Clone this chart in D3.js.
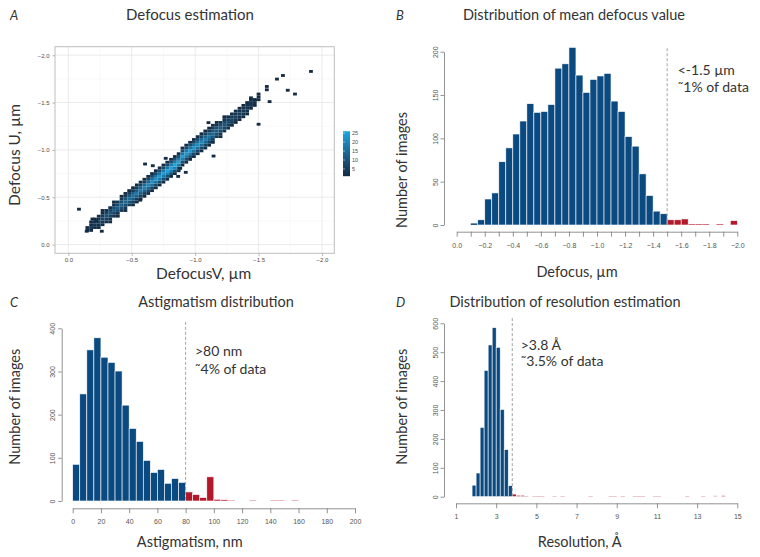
<!DOCTYPE html>
<html>
<head>
<meta charset="utf-8">
<script src="https://cdn.jsdelivr.net/npm/d3@7"></script>
<style>
  body{margin:0;background:#fff;}
  text{font-family:Lato,"Open Sans",sans-serif;fill:#333;}
  .axis text{font-family:"Liberation Sans",Arial,sans-serif;fill:#555;}
</style>
</head>
<body>
<svg id="fig" width="760" height="557"></svg>
<script>
// ---- panel A: 2D binned defocus U vs V ----
const heat_bin = 0.03;
const heat_v = [-0.15,-0.18,-0.21,-0.24,-0.27,-0.30,-0.33,-0.36,-0.39,-0.42,-0.45,-0.48,-0.51,-0.54,-0.57,-0.60,
  -0.63,-0.66,-0.69,-0.72,-0.75,-0.78,-0.81,-0.84,-0.87,-0.90,-0.93,-0.96,-0.99,-1.02,-1.05,-1.08,-1.11,-1.14,
  -1.17,-1.20,-1.23,-1.26,-1.29,-1.32,-1.35,-1.38,-1.41,-1.44,-1.47,-1.50];
const heat_u_start = [-0.06,-0.09,-0.12,-0.15,-0.18,-0.21,-0.24,-0.27,-0.30,-0.33,-0.36,-0.39,-0.42,-0.45,-0.48,-0.51,
  -0.54,-0.57,-0.60,-0.63,-0.66,-0.69,-0.72,-0.75,-0.78,-0.84,-0.87,-0.90,-0.93,-0.96,-0.99,-1.02,-1.05,-1.08,
  -1.11,-1.14,-1.17,-1.20,-1.23,-1.26,-1.29,-1.32,-1.35,-1.38,-1.41,-1.44];
const heat_counts = [
  [0,0,0,2,1,0,0],[0,0,1,3,2,1,0],[0,0,2,4,3,1,0],[0,1,3,6,4,2,0],[0,1,4,7,5,2,1],[0,2,5,9,6,2,0],
  [1,2,6,10,7,3,0],[0,3,7,11,8,3,1],[1,3,8,12,8,4,0],[0,4,9,13,9,4,1],[1,4,9,14,10,4,1],[0,5,10,15,11,5,1],
  [1,5,11,16,12,5,1],[1,5,12,17,12,6,1],[1,6,12,18,13,6,2],[1,6,13,19,14,6,1],[2,7,14,20,14,7,1],[1,7,15,21,15,7,2],
  [2,8,16,22,16,7,1],[1,8,17,23,16,8,2],[2,8,17,24,17,8,1],[2,9,18,25,17,8,2],[1,9,18,25,18,9,2],[2,9,19,26,18,9,1],
  [2,9,18,25,18,9,2],[1,9,18,24,17,8,2],[2,8,17,23,17,8,1],[1,8,17,24,16,8,2],[2,8,16,22,16,7,1],[1,7,15,21,15,7,2],
  [2,7,14,20,14,7,1],[1,6,13,18,13,6,1],[1,6,12,16,12,5,1],[1,5,11,14,10,5,1],[0,4,9,12,9,4,1],[1,4,8,11,8,3,0],
  [0,3,7,10,7,3,1],[0,3,6,8,6,2,0],[0,2,5,7,5,2,0],[0,2,4,6,4,2,0],[0,1,3,5,3,1,0],[0,1,3,4,3,1,0],
  [0,1,2,3,2,1,0],[0,0,1,2,2,1,0],[0,0,1,2,1,0,0],[0,0,0,1,1,0,0]];
const outlier_v = [-0.084,-0.145,-0.264,-0.605,-0.666,-0.768,-0.566,-0.882,-0.926,-0.866,-1.145,-1.105,-1.50,-1.50,
  -1.587,-1.565,-1.565,-1.645,-1.692,-1.73,-1.787,-1.913,-1.44,-1.47,-0.19,-0.22];
const outlier_u = [-0.374,-0.141,-0.141,-0.851,-0.833,-0.911,-0.469,-0.805,-0.763,-0.72,-0.935,-1.288,-1.271,-1.59,
  -1.51,-1.67,-1.635,-1.748,-1.786,-1.63,-1.59,-1.829,-1.55,-1.53,-0.27,-0.25];
const heat_ticks = [0,-0.5,-1,-1.5,-2];
const heat_minor = [-0.25,-0.75,-1.25,-1.75];
const legend_ticks = [5,10,15,20,25];

// ---- panel B: mean defocus ----
const defocus_x0 = [-0.10,-0.15,-0.20,-0.25,-0.30,-0.35,-0.40,-0.45,-0.50,-0.55,-0.60,-0.65,-0.70,-0.75,-0.80,-0.85,
  -0.90,-0.95,-1.00,-1.05,-1.10,-1.15,-1.20,-1.25,-1.30,-1.35,-1.40,-1.45,-1.50,-1.55,-1.60,-1.65,-1.70,-1.75,
  -1.80,-1.85,-1.90,-1.95];
const defocus_count = [2,6,30,37,73,89,105,120,140,130,131,139,181,186,205,173,153,168,172,175,143,131,102,91,
  59,34,16,13,6,6,7,1,1,1,0,1,0,5];
const defocus_x_ticks = [0,-0.1,-0.2,-0.3,-0.4,-0.5,-0.6,-0.7,-0.8,-0.9,-1.0,-1.1,-1.2,-1.3,-1.4,-1.5,-1.6,-1.7,-1.8,-1.9,-2.0];
const defocus_y_ticks = [0,50,100,150,200];

// ---- panel C: astigmatism ----
const astig_x0 = [0,5,10,15,20,25,30,35,40,45,50,55,60,65,70,75,80,85,90,95,100,105,110,115,120,125,130,135,140,145,150,155];
const astig_count = [85,248,350,378,333,321,301,222,168,138,94,66,73,41,52,43,21,15,8,56,4,3,1,0,0,1,0,0,1,1,0,1];
const astig_x_ticks = [0,20,40,60,80,100,120,140,160,180,200];
const astig_y_ticks = [0,100,200,300,400];

// ---- panel D: resolution ----
const res_x0 = [1.8,2.0,2.2,2.4,2.6,2.8,3.0,3.2,3.4,3.6,3.8,4.0,4.2,4.4,4.8,5.0,5.2,5.8,6.2,7.6,8.6,8.8,9.2,9.8,
  10.0,10.2,10.8,11.0,12.4,13.2,13.8,14.2];
const res_count = [40,82,240,437,525,585,517,302,163,38,9,5,5,1,1,1,1,1,1,1,1,1,1,1,1,1,1,1,1,1,3,4];
const res_x_ticks = [1,3,5,7,9,11,13,15];
const res_y_ticks = [0,100,200,300,400,500,600];

const blue = "#0b4a80";
const red = "#b21a2c";

const svg = d3.select("#fig");

function add_text(parent, x, y, txt, size, anchor, rot){
  const t = parent.append("text")
    .attr("text-anchor", anchor || "start")
    .style("font-size", size + "px")
    .text(txt);
  if(rot){
    t.attr("transform", `translate(${x},${y})rotate(-90)`).attr("dy", "0.35em");
  }else{
    t.attr("x", x).attr("y", y);
  }
  return t;
}

function create_heat(parent){
  const x_scale = d3.scaleLinear().domain([0.105, -2.097]).range([55, 334.3]);
  const y_scale = d3.scaleLinear().domain([0.092, -2.09]).range([253.3, 46.7]);
  const color_scale = d3.scaleLinear().domain([1, 26])
    .range(["#132b43", "#18a7e5"]).interpolate(d3.interpolateLab);

  const g = parent.append("g");
  const [x_lo, x_hi] = x_scale.range();
  const [y_lo, y_hi] = y_scale.range();

  // grid
  g.selectAll(".vminor").data(heat_minor).enter().append("line")
    .attr("x1", d=>x_scale(d)).attr("x2", d=>x_scale(d)).attr("y1", y_lo).attr("y2", y_hi)
    .style("stroke", "#f2f2f2").style("stroke-width", 0.5);
  g.selectAll(".hminor").data(heat_minor).enter().append("line")
    .attr("y1", d=>y_scale(d)).attr("y2", d=>y_scale(d)).attr("x1", x_lo).attr("x2", x_hi)
    .style("stroke", "#f2f2f2").style("stroke-width", 0.5);
  g.selectAll(".vmajor").data(heat_ticks).enter().append("line")
    .attr("x1", d=>x_scale(d)).attr("x2", d=>x_scale(d)).attr("y1", y_lo).attr("y2", y_hi)
    .style("stroke", "#e6e6e6").style("stroke-width", 0.8);
  g.selectAll(".hmajor").data(heat_ticks).enter().append("line")
    .attr("y1", d=>y_scale(d)).attr("y2", d=>y_scale(d)).attr("x1", x_lo).attr("x2", x_hi)
    .style("stroke", "#e6e6e6").style("stroke-width", 0.8);

  // cells
  const cells = [];
  heat_v.forEach((v, i)=>{
    heat_counts[i].forEach((n, k)=>{
      if(n > 0) cells.push({v: v, u: heat_u_start[i] - k*heat_bin, n: n});
    });
  });
  outlier_v.forEach((v, i)=> cells.push({v: v, u: outlier_u[i], n: 1}));

  const h = heat_bin/2;
  g.selectAll(".cell").data(cells).enter().append("rect")
    .attr("class", "cell")
    .attr("x", d=>x_scale(d.v + h))
    .attr("width", d=>x_scale(d.v - h) - x_scale(d.v + h))
    .attr("y", d=>y_scale(d.u - h))
    .attr("height", d=>y_scale(d.u + h) - y_scale(d.u - h))
    .style("fill", d=>color_scale(d.n));

  g.append("rect")
    .attr("x", x_lo).attr("y", y_hi).attr("width", x_hi - x_lo).attr("height", y_lo - y_hi)
    .style("fill", "none").style("stroke", "#bdbdbd").style("stroke-width", 1);

  const fmt = d3.format(".1f");
  const x_axis = g.append("g").attr("class", "axis")
    .attr("transform", `translate(0,${y_lo})`)
    .call(d3.axisBottom(x_scale).tickValues(heat_ticks).tickSize(2.5).tickPadding(1.5).tickFormat(fmt));
  const y_axis = g.append("g").attr("class", "axis")
    .attr("transform", `translate(${x_lo},0)`)
    .call(d3.axisLeft(y_scale).tickValues(heat_ticks).tickSize(2.5).tickPadding(3).tickFormat(fmt));
  [x_axis, y_axis].forEach(a=>{
    a.select(".domain").remove();
    a.selectAll("line").style("stroke", "#b3b3b3");
    a.selectAll("text").style("font-size", "6px").style("fill", "#4d4d4d");
  });

  // colour bar
  const cb_scale = d3.scaleLinear().domain([5, 25]).range([169, 133]);
  const grad = parent.append("defs").append("linearGradient")
    .attr("id", "cb").attr("x1", 0).attr("x2", 0).attr("y1", 1).attr("y2", 0);
  d3.range(0, 1.01, 0.1).forEach(t=>{
    grad.append("stop").attr("offset", t).attr("stop-color", color_scale(1 + 25*t));
  });
  g.append("rect")
    .attr("x", 343).attr("width", 7)
    .attr("y", cb_scale(26)).attr("height", cb_scale(1) - cb_scale(26))
    .style("fill", "url(#cb)");
  g.selectAll(".cbtick").data(legend_ticks).enter().append("line")
    .attr("x1", 343).attr("x2", 345).attr("y1", d=>cb_scale(d)).attr("y2", d=>cb_scale(d))
    .style("stroke", "#fff").style("stroke-width", 0.5);
  g.selectAll(".cblbl").data(legend_ticks).enter().append("text")
    .attr("x", 352).attr("y", d=>cb_scale(d)).attr("dy", "0.35em")
    .style("font-family", "'Liberation Sans',Arial,sans-serif")
    .style("font-size", "5.5px").style("fill", "#4d4d4d")
    .text(d=>d);

  add_text(g, 190, 20, "Defocus estimation", 15, "middle");
  add_text(g, 10, 20, "A", 13, "start").style("font-style", "italic");
  add_text(g, 203.7, 278.5, "DefocusV, µm", 15.5, "middle");
  add_text(g, 15, 155, "Defocus U, µm", 15.5, "middle", true);
}

function create_hist(parent, cfg){
  const x_scale = d3.scaleLinear().domain(cfg.x_domain).range(cfg.x_range);
  const y_scale = d3.scaleLinear().domain(cfg.y_domain).range(cfg.y_range);
  const g = parent.append("g");

  const bins = cfg.x0.map((d, i)=>({x0: d, x1: d + cfg.bw, n: cfg.count[i]}))
    .filter(d=>d.n > 0);

  g.selectAll(".bar").data(bins).enter().append("rect")
    .attr("class", "bar")
    .attr("x", d=>Math.min(x_scale(d.x0), x_scale(d.x1)))
    .attr("width", d=>Math.abs(x_scale(d.x1) - x_scale(d.x0)))
    .attr("y", d=>y_scale(d.n))
    .attr("height", d=>y_scale(0) - y_scale(d.n))
    .style("fill", d=>(cfg.dir*(d.x0 - cfg.cut) > -1e-9) ? red : blue)
    .style("stroke", "#fff")
    .style("stroke-width", d=> d.n > 2 ? 0.6 : 0.2);

  g.append("line")
    .attr("x1", x_scale(cfg.cut)).attr("x2", x_scale(cfg.cut))
    .attr("y1", y_scale(cfg.dash_top)).attr("y2", y_scale(0))
    .style("stroke", "#8a8a8a").style("stroke-width", 0.8)
    .style("stroke-dasharray", "3,2");

  const x_axis = g.append("g").attr("class", "axis")
    .attr("transform", `translate(0,${cfg.axis_y})`)
    .call(d3.axisBottom(x_scale).tickValues(cfg.x_ticks).tickSize(5).tickSizeOuter(0).tickPadding(6)
      .tickFormat((d, i)=> i % cfg.label_every === 0 ? cfg.fmt(d) : ""));

  const y_axis = g.append("g").attr("class", "axis")
    .attr("transform", `translate(${cfg.axis_x},0)`)
    .call(d3.axisLeft(y_scale).tickValues(cfg.y_ticks).tickSize(3.5).tickSizeOuter(0));

  [x_axis, y_axis].forEach(a=>{
    a.select(".domain").style("stroke", "#777").style("stroke-width", 0.8);
    a.selectAll(".tick line").style("stroke", "#777").style("stroke-width", 0.8);
    a.selectAll("text").style("font-size", "7px");
  });
  y_axis.selectAll("text")
    .attr("transform", "rotate(-90)")
    .attr("x", 0).attr("y", -6.5).attr("dy", 0)
    .attr("text-anchor", "middle");

  add_text(g, cfg.title_x, cfg.title_y, cfg.title, 14.5, "middle");
  add_text(g, cfg.letter_x, cfg.title_y, cfg.letter, 13, "start").style("font-style", "italic");
  add_text(g, cfg.xlab_x, cfg.xlab_y, cfg.xlab, 14.5, "middle");
  add_text(g, cfg.ylab_x, cfg.ylab_y, "Number of images", 14.5, "middle", true);
  cfg.note.forEach((s, i)=>{
    add_text(g, cfg.note_x, cfg.note_y[i], s, 14, "start");
  });
}

create_heat(svg);

create_hist(svg, {
  x0: defocus_x0, count: defocus_count, bw: -0.05, cut: -1.5, dir: -1, dash_top: 204,
  x_domain: [0, -2], x_range: [456.7, 737.3], y_domain: [0, 200], y_range: [225, 51.7],
  axis_y: 231.7, axis_x: 444, x_ticks: defocus_x_ticks, label_every: 2, fmt: d3.format(".1f"),
  y_ticks: defocus_y_ticks,
  title: "Distribution of mean defocus value", title_x: 574, title_y: 20, letter: "B", letter_x: 396,
  xlab: "Defocus, µm", xlab_x: 577, xlab_y: 276.5, ylab_x: 401.7, ylab_y: 170,
  note: ["<-1.5 µm", "˜1% of data"], note_x: 677.7, note_y: [75, 92]
});

create_hist(svg, {
  x0: astig_x0, count: astig_count, bw: 5, cut: 80, dir: 1, dash_top: 415,
  x_domain: [0, 200], x_range: [72.7, 355], y_domain: [0, 400], y_range: [501, 328.3],
  axis_y: 508.3, axis_x: 61.7, x_ticks: astig_x_ticks, label_every: 1, fmt: d3.format("d"),
  y_ticks: astig_y_ticks,
  title: "Astigmatism distribution", title_x: 216, title_y: 306.5, letter: "C", letter_x: 10,
  xlab: "Astigmatism, nm", xlab_x: 189.7, xlab_y: 546.5, ylab_x: 15, ylab_y: 406.7,
  note: [">80 nm", "˜4% of data"], note_x: 195, note_y: [356, 373.5]
});

create_hist(svg, {
  x0: res_x0, count: res_count, bw: 0.2, cut: 3.8, dir: 1, dash_top: 618,
  x_domain: [1, 15], x_range: [456, 737.3], y_domain: [0, 600], y_range: [496.7, 323.3],
  axis_y: 503.3, axis_x: 444, x_ticks: res_x_ticks, label_every: 1, fmt: d3.format("d"),
  y_ticks: res_y_ticks,
  title: "Distribution of resolution estimation", title_x: 565, title_y: 306.5, letter: "D", letter_x: 396,
  xlab: "Resolution, Å", xlab_x: 579.7, xlab_y: 546.5, ylab_x: 401.7, ylab_y: 406.7,
  note: [">3.8 Å", "˜3.5% of data"], note_x: 520.7, note_y: [350, 366]
});
</script>
</body>
</html>
